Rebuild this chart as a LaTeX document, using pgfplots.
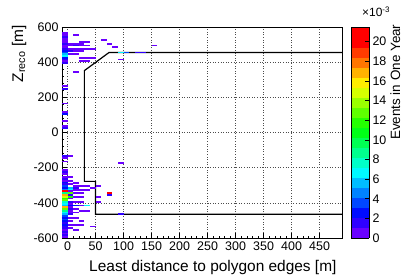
\documentclass[border=0pt]{standalone}
\usepackage{fontspec}
\setmainfont{Liberation Sans}
\usepackage{pgfplots}
\usepackage{pgfplotstable}
\pgfplotsset{compat=1.18}
\pgfdeclareplotmark{binrect}{\pgfpathrectanglecorners{\pgfpoint{-2.85bp}{-0.92bp}}{\pgfpoint{2.85bp}{0.92bp}}\pgfusepathqfill}

\pgfplotstableread{
x y v
-5 565 0.6
-5 555 0.6
-5 545 1.6
-5 535 0.6
-5 525 0.6
-5 515 0.6
-5 505 1.6
-5 495 0.6
-5 485 0.6
-5 475 1.6
-5 465 2.7
-5 455 3.8
-5 445 5.9
-5 435 7
-5 425 2.7
-5 415 1.6
-5 405 0.6
-5 395 1.6
15 555 0.6
25 515 0.6
35 515 0.6
5 505 0.6
15 505 0.6
25 505 0.6
5 495 0.6
15 495 1.6
25 495 0.6
35 495 0.6
5 475 0.6
15 475 0.6
25 475 0.6
35 475 0.6
45 475 0.6
5 465 1.6
15 465 0.6
25 465 0.6
5 445 0.6
15 445 0.6
25 425 0.6
35 425 0.6
45 425 0.6
25 405 0.6
35 405 0.6
15 345 0.6
65 525 0.6
75 505 0.6
85 485 0.6
95 455 7
105 455 3.8
125 455 1.6
135 455 1.6
155 495 0.6
95 415 0.6
-5 265 0.6
-5 245 1.6
-5 165 0.6
-5 115 0.6
-5 105 2.7
-5 65 0.6
-5 35 0.6
-5 25 1.6
-5 -135 1.6
-5 -145 0.6
-5 -165 0.6
-5 -215 0.6
-5 -225 1.6
-5 -235 0.6
5 -135 0.6
95 -175 0.6
-5 -255 0.6
-5 -265 1.6
-5 -275 0.6
-5 -285 2.7
-5 -295 1.6
-5 -305 3.8
-5 -315 2.7
-5 -325 4.8
-5 -335 21
-5 -345 9.1
-5 -355 16.7
-5 -365 14.5
-5 -375 11.3
-5 -385 12.4
-5 -395 8
-5 -405 7
-5 -415 5.9
-5 -425 16.7
-5 -435 12.4
-5 -445 9.1
-5 -455 7
-5 -465 5.9
-5 -475 3.8
-5 -485 2.7
-5 -495 3.8
-5 -505 2.7
-5 -515 1.6
-5 -525 2.7
-5 -535 1.6
-5 -545 1.6
-5 -555 0.6
-5 -565 1.6
-5 -575 0.6
-5 -585 1.6
-5 -595 0.6
5 -255 0.6
5 -275 0.6
5 -295 0.6
5 -315 5.9
5 -325 7
5 -335 0.6
5 -345 12.4
5 -355 1.6
5 -365 11.3
5 -375 0.6
5 -395 1.6
5 -405 0.6
5 -415 2.7
5 -425 0.6
5 -435 1.6
5 -445 0.6
5 -455 0.6
5 -465 1.6
5 -485 0.6
5 -505 0.6
5 -525 0.6
5 -545 0.6
15 -285 0.6
15 -305 0.6
15 -315 1.6
15 -325 0.6
15 -345 0.6
15 -365 0.6
15 -395 0.6
15 -415 2.7
15 -435 0.6
15 -455 0.6
15 -485 0.6
15 -525 0.6
15 -555 0.6
25 -305 0.6
25 -325 0.6
25 -345 0.6
25 -365 0.6
25 -395 0.6
25 -415 0.6
25 -445 0.6
25 -505 0.6
25 -525 0.6
35 -305 0.6
35 -325 0.6
35 -415 7
35 -445 0.6
45 -315 0.6
45 -535 0.6
55 -305 0.6
55 -365 0.6
55 -395 0.6
75 -345 21
75 -355 1.6
95 -465 1.6
}\bins

\begin{document}
\begin{tikzpicture}
\path[use as bounding box] (-62bp,-41bp) rectangle (353bp,238bp);
\begin{axis}[
 scale only axis, width=280bp, height=211bp,
 at={(0,0)}, anchor=south west,
 xmin=-10, xmax=490, ymin=-600, ymax=600,
 xtick={0,50,...,450}, ytick={-600,-400,...,600},
 minor x tick num=4, minor y tick num=4,
 tick align=inside, xtick pos=bottom, ytick pos=left,
 major tick length=5bp, minor tick length=2.5bp,
 grid=major,
 major grid style={black!70, dash pattern=on 0.8bp off 1.8bp, line width=0.5bp},
 axis line style={line width=0.6bp},
 tick style={black, line width=0.5bp},
 every tick label/.append style={font=\fontsize{12.5}{14}\selectfont},
 /pgf/number format/assume math mode=true,
 colormap={rootpal}{rgb255=(106,0,255) rgb255=(47,0,255) rgb255=(0,12,255) rgb255=(0,71,255)
   rgb255=(0,131,255) rgb255=(0,190,255) rgb255=(0,249,255) rgb255=(0,255,201) rgb255=(0,255,142)
   rgb255=(0,255,83) rgb255=(0,255,23) rgb255=(36,255,0) rgb255=(95,255,0) rgb255=(154,255,0)
   rgb255=(214,255,0) rgb255=(255,237,0) rgb255=(255,178,0) rgb255=(255,118,0) rgb255=(255,59,0)
   rgb255=(255,0,0) rgb255=(255,0,0)},
 colormap access=piecewise constant,
 point meta min=0, point meta max=21.5,
 colorbar,
 colorbar style={at={(parent axis.north east)}, anchor=north west, xshift=0.5bp,
   scale only axis, width=18bp, height=211bp,
   ytick={0,2,...,20}, minor y tick num=0, tick align=inside,
   ytick pos=right, yticklabel pos=right,
   major tick length=4bp, xmajorgrids=false, ymajorgrids=false,
   tick style={black, line width=0.5bp},
   axis line style={line width=0.5bp},
   every tick label/.append style={font=\fontsize{12.5}{14}\selectfont},
   /pgf/number format/assume math mode=true},
]
\addplot[scatter, only marks, mark=binrect, point meta=explicit,
  scatter/use mapped color={draw=none, fill=mapped color}]
  table[x=x, y=y, meta=v] {\bins};
\addplot[black, line width=1.2bp, mark=none] coordinates {
 (490,455) (74,455) (30,352) (30,-278) (50,-278) (50,-465) (490,-465)};
\end{axis}
\node[rotate=90, anchor=base east, font=\fontsize{15.5}{17}\selectfont] at (-39bp,216bp) {Z\textsubscript{reco} [m]};
\node[anchor=base east, font=\fontsize{15.5}{17}\selectfont] at (278bp,-33bp) {Least distance to polygon edges [m]};
\node[rotate=90, anchor=base east, font=\fontsize{13.5}{15}\selectfont] at (338bp,217bp) {Events in One Year};
\node[anchor=base west, inner sep=0pt, font=\fontsize{12}{13}\selectfont] at (300bp,221bp) {×10\textsuperscript{-3}};
\end{tikzpicture}
\end{document}
